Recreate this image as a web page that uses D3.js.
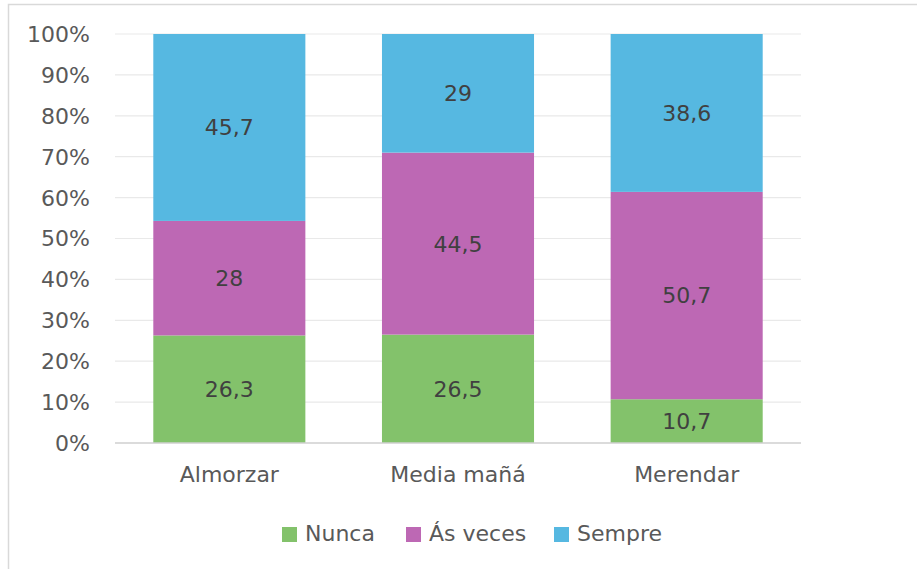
<!DOCTYPE html>
<html><head><meta charset="utf-8">
<script src="https://cdn.jsdelivr.net/npm/d3@7"></script>
<style>body{margin:0;background:#fff;} svg{display:block;}</style>
</head><body>
<svg id="c" width="917" height="569"></svg>
<script>
const categories = ["Almorzar", "Media mañá", "Merendar"];
const seriesNames = ["Nunca", "Ás veces", "Sempre"];
const nunca = [26.3, 26.5, 10.7];
const asVeces = [28, 44.5, 50.7];
const sempre = [45.7, 29, 38.6];
const valueLabels = [["26,3","26,5","10,7"],["28","44,5","50,7"],["45,7","29","38,6"]];
const yTicks = [0,10,20,30,40,50,60,70,80,90,100];
const colors = ["#83c26b", "#bd68b4", "#56b8e1"];

const svg = d3.select("#c");
const font = "'DejaVu Sans', sans-serif";
svg.append("rect").attr("x",8.5).attr("y",4.5).attr("width",1000).attr("height",1000)
  .attr("fill","#fff").attr("stroke","#d9d9d9").attr("stroke-width",1.5);

const x0 = 115, x1 = 801, yTop = 34, yBot = 443;
const x = d3.scaleBand().domain(categories).range([x0, x1]).paddingInner(0.335).paddingOuter(0.1675);
const y = d3.scaleLinear().domain([0,100]).range([yBot, yTop]);

const g = svg.append("g");
g.selectAll("line.grid").data(yTicks.slice(1)).enter().append("line")
  .attr("x1",x0).attr("x2",x1).attr("y1",d=>y(d)).attr("y2",d=>y(d))
  .attr("stroke","#e9e9e9").attr("stroke-width",1.2);

const data = categories.map((c,i)=>({cat:c, "Nunca":nunca[i], "Ás veces":asVeces[i], "Sempre":sempre[i], idx:i}));
const stack = d3.stack().keys(seriesNames)(data);

stack.forEach((s,si)=>{
  g.selectAll(null).data(s).enter().append("rect")
    .attr("x",d=>x(d.data.cat)).attr("width",x.bandwidth())
    .attr("y",d=>y(d[1])).attr("height",d=>y(d[0])-y(d[1]))
    .attr("fill",colors[si]);
  g.selectAll(null).data(s).enter().append("text")
    .attr("x",d=>x(d.data.cat)+x.bandwidth()/2)
    .attr("y",d=>(y(d[0])+y(d[1]))/2)
    .attr("dy","0.36em").attr("text-anchor","middle")
    .attr("font-family",font).attr("font-size",22).attr("fill","#404040")
    .text(d=>valueLabels[si][d.data.idx]);
});

g.append("line").attr("x1",x0).attr("x2",x1).attr("y1",yBot).attr("y2",yBot)
  .attr("stroke","#cfcfcf").attr("stroke-width",1.5);

g.selectAll("text.yt").data(yTicks).enter().append("text")
  .attr("x",90).attr("y",d=>y(d)).attr("dy","0.36em").attr("text-anchor","end")
  .attr("font-family",font).attr("font-size",22).attr("fill","#595959")
  .text(d=>d+"%");

g.selectAll("text.xt").data(categories).enter().append("text")
  .attr("x",d=>x(d)+x.bandwidth()/2).attr("y",482).attr("text-anchor","middle")
  .attr("font-family",font).attr("font-size",22).attr("fill","#595959")
  .text(d=>d);

const legX = [282, 406, 554];
seriesNames.forEach((n,i)=>{
  g.append("rect").attr("x",legX[i]).attr("y",527).attr("width",15).attr("height",15).attr("fill",colors[i]);
  g.append("text").attr("x",legX[i]+23).attr("y",541).attr("font-family",font)
    .attr("font-size",22).attr("fill","#595959").text(n);
});
</script>
</body></html>
